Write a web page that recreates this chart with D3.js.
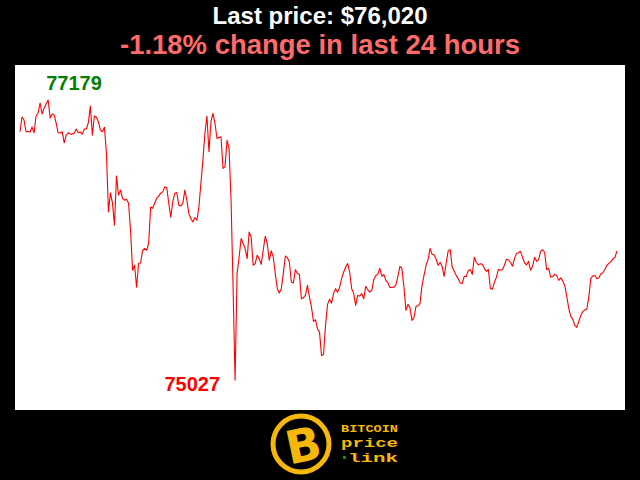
<!DOCTYPE html>
<html>
<head>
<meta charset="utf-8">
<script src="https://cdn.jsdelivr.net/npm/d3@7/dist/d3.min.js"></script>
<style>
  html, body { margin: 0; padding: 0; background: #000; }
  svg { display: block; }
</style>
</head>
<body>
<svg id="chart" width="640" height="480"></svg>
<script>
// ---- Data (24h BTC price, USD) ----
const prices = [
  76935, 77048, 77025, 76935, 76937, 76933, 76971, 76927, 77056, 77079, 77156, 77071, 77117, 77149,
  77179, 77040, 77071, 77063, 77002, 76927, 76925, 76935, 76850, 76909, 76927, 76917, 76917, 76925,
  76956, 76927, 76933, 76917, 76956, 76956, 77004, 77133, 76909, 77056, 77046, 77012, 76948, 76935,
  76969, 76771, 76319, 76465, 76388, 76217, 76594, 76448, 76486,
  76424, 76409, 76417, 76386, 76178, 75870, 75909, 75741, 75924, 75926, 76024, 76039, 76024, 76078,
  76357, 76347, 76386, 76424, 76440, 76463, 76473, 76511, 76507, 76386, 76278, 76396, 76463, 76468,
  76370, 76365, 76384, 76486, 76409, 76307, 76268, 76242, 76276, 76255, 76357, 76538, 76717, 76923,
  77056, 76781, 77012, 77077, 77000, 76884, 76890,
  76896, 76653, 76665, 76871, 76807, 76409, 75741, 75027, 75845, 75972, 76114, 76076, 76037, 75960,
  76165, 76126, 75909, 75922, 75986, 75960, 75916, 76024, 76132, 76076, 75947, 76019, 75972, 75845,
  75729, 75695, 75729, 75845, 75980, 75968, 75934, 75780, 75772, 75875, 75845, 75839, 75652, 75660,
  75677, 75754, 75664, 75587, 75477, 75490, 75421, 75395, 75216, 75223, 75447, 75608, 75647, 75618,
  75693, 75729, 75701, 75739, 75808, 75855, 75893, 75922, 75857, 75729, 75693, 75600, 75677, 75672,
  75691, 75652, 75747, 75721, 75703, 75716, 75798, 75831, 75839, 75885, 75824, 75839, 75793, 75775,
  75739, 75739, 75741, 75758, 75824, 75901, 75883, 75741, 75562, 75608, 75583, 75485, 75506, 75593,
  75597, 75616, 75754, 75831, 75909, 75951, 76039, 75993, 75989, 75955, 75909, 75932, 75901, 75824,
  75922, 76019, 76029, 75895, 75865, 75831, 75806, 75772, 75768, 75824, 75822, 75870, 75875, 75839,
  75970, 75932, 75912, 75920, 75916, 75885, 75862, 75878, 75731, 75724, 75778, 75816, 75878, 75870,
  75874, 75909, 75955, 75951, 75932, 75901, 75960, 75999, 76005, 76016, 75970, 75928, 75912, 75939,
  75870, 75901, 75970, 75939, 75951, 76016, 76028, 76009, 75875, 75885, 75818, 75820, 75839, 75831,
  75793, 75812, 75789, 75754, 75670, 75577, 75516, 75493, 75447, 75431, 75477, 75524, 75554, 75566,
  75572, 75670, 75808, 75828, 75830, 75805, 75812, 75843, 75851, 75878, 75909, 75924, 75935, 75958,
  75970, 76020
];
const lastPrice = 76020;
const changePct = -1.18;
const titleText = "Last price: $76,020";
const subtitleText = "-1.18% change in last 24 hours";
const logoLines = ["BITCOIN", "price", "link"];

// ---- Layout ----
const svg = d3.select("#chart");
const W = 640, H = 480;
svg.append("rect").attr("width", W).attr("height", H).attr("fill", "#000");

// plot area
svg.append("rect").attr("x", 15).attr("y", 65).attr("width", 610).attr("height", 345).attr("fill", "#fff");

const maxV = d3.max(prices), minV = d3.min(prices);
const iMax = prices.indexOf(maxV), iMin = prices.indexOf(minV);

const x = d3.scaleLinear().domain([0, prices.length - 1]).range([20, 617]);
const y = d3.scaleLinear().domain([minV, maxV]).range([380, 100]);

const line = d3.line().x((d, i) => x(i)).y(d => y(d));
svg.append("path").datum(prices)
  .attr("d", line).attr("fill", "none").attr("stroke", "#ff0000")
  .attr("stroke-width", 1.1).attr("stroke-linejoin", "round");

// max/min labels
svg.append("text").attr("x", x(iMax) - 2).attr("y", y(maxV) - 10)
  .attr("fill", "#008000").attr("font-family", "Liberation Sans, Arial, sans-serif")
  .attr("font-weight", "bold").attr("font-size", 20).text(maxV);
svg.append("text").attr("x", x(iMin) - 15).attr("y", y(minV) + 11)
  .attr("text-anchor", "end")
  .attr("fill", "#ff0000").attr("font-family", "Liberation Sans, Arial, sans-serif")
  .attr("font-weight", "bold").attr("font-size", 20).text(minV);

// titles
svg.append("text").attr("x", 320).attr("y", 24).attr("text-anchor", "middle")
  .attr("fill", "#fff").attr("font-family", "'Liberation Sans', Arial, sans-serif").attr("font-weight", "bold")
  .attr("font-size", 24).attr("textLength", 215).attr("lengthAdjust", "spacingAndGlyphs")
  .text(titleText);
svg.append("text").attr("x", 320).attr("y", 54).attr("text-anchor", "middle")
  .attr("fill", changePct < 0 ? "#ff6b6b" : "#6bff6b").attr("font-family", "'Liberation Sans', Arial, sans-serif").attr("font-weight", "bold")
  .attr("font-size", 27).attr("textLength", 400).attr("lengthAdjust", "spacingAndGlyphs")
  .text(subtitleText);

// logo
const gold = "#f5b70a";
const logo = svg.append("g");
logo.append("circle").attr("cx", 301).attr("cy", 444).attr("r", 28)
  .attr("fill", "#000").attr("stroke", gold).attr("stroke-width", 5);
logo.append("text").attr("x", 303).attr("y", 462).attr("text-anchor", "middle")
  .attr("transform", "rotate(-12,301,444)")
  .attr("fill", gold).attr("font-family", "DejaVu Sans, sans-serif").attr("font-weight", "bold")
  .attr("font-size", 46).text("B");
const ly = [432, 447, 462];
const lfs = [11, 13, 13];
logoLines.forEach((t, i) => {
  logo.append("text").attr("x", i === 2 ? 348 : 341).attr("y", ly[i])
    .attr("fill", gold).attr("font-family", "'Liberation Mono', 'DejaVu Sans Mono', monospace")
    .attr("font-weight", "bold").attr("font-size", lfs[i])
    .attr("textLength", i === 2 ? 50 : 57).attr("lengthAdjust", "spacingAndGlyphs").text(t);
});
logo.append("rect").attr("x", 343).attr("y", 456).attr("width", 3).attr("height", 3).attr("fill", "#1a8a1a");
</script>
</body>
</html>
